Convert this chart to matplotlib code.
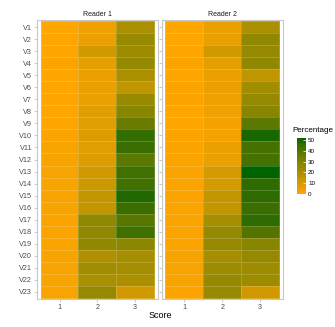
import matplotlib
matplotlib.use('Agg')
import matplotlib.pyplot as plt
from matplotlib.colors import ListedColormap, Normalize
import numpy as np

plt.rcParams['font.family'] = ['Liberation Sans', 'DejaVu Sans']

items = ['V%d' % i for i in range(1, 24)]
scores = ['1', '2', '3']
readers = ['Reader 1', 'Reader 2']

# percentage per item (rows) for score 1, 2, 3
r1_s1 = [0, 0, 0, 1, 0, 0, 0, 0, 0, 1, 2, 2, 2, 2, 2, 2, 1, 1, 1, 2, 2, 2, 2]
r1_s2 = [4, 5, 11, 6, 5, 5, 5, 7, 7, 8, 7, 8, 11, 12, 14, 14, 26, 26, 26, 19, 22, 20, 25]
r1_s3 = [20, 24, 23, 25, 20, 15, 24, 28, 35, 46, 45, 38, 44, 44, 49, 45, 39, 44, 27, 21, 21, 20, 11]
r2_s1 = [0, 0, 0, 1, 0, 1, 1, 0, 0, 1, 1, 1, 1, 1, 1, 1, 1, 1, 1, 2, 2, 2, 1]
r2_s2 = [5, 5, 11, 6, 5, 5, 4, 4, 3, 3, 5, 5, 10, 10, 14, 14, 21, 25, 25, 21, 23, 25, 24]
r2_s3 = [20, 26, 25, 26, 15, 22, 25, 28, 38, 50, 43, 43, 52, 47, 47, 45, 47, 40, 28, 25, 23, 23, 11]

data = [np.array([r1_s1, r1_s2, r1_s3]).T, np.array([r2_s1, r2_s2, r2_s3]).T]
vmin, vmax = 0, 52


# ggplot-like gradient: orange -> darkgreen interpolated in CIELAB
def srgb_to_lab(c):
    c = np.asarray(c, float)
    lin = np.where(c <= 0.04045, c / 12.92, ((c + 0.055) / 1.055) ** 2.4)
    M = np.array([[0.4124, 0.3576, 0.1805],
                  [0.2126, 0.7152, 0.0722],
                  [0.0193, 0.1192, 0.9505]])
    xyz = M @ lin / np.array([0.95047, 1.0, 1.08883])
    f = np.where(xyz > 0.008856, np.cbrt(xyz), 7.787 * xyz + 16 / 116)
    return np.array([116 * f[1] - 16, 500 * (f[0] - f[1]), 200 * (f[1] - f[2])])


def lab_to_srgb(lab):
    L, a, b = lab
    fy = (L + 16) / 116
    fx = fy + a / 500
    fz = fy - b / 200
    f = np.array([fx, fy, fz])
    xyz = np.where(f ** 3 > 0.008856, f ** 3, (f - 16 / 116) / 7.787)
    xyz = xyz * np.array([0.95047, 1.0, 1.08883])
    Minv = np.array([[3.2406, -1.5372, -0.4986],
                     [-0.9689, 1.8758, 0.0415],
                     [0.0557, -0.2040, 1.0570]])
    lin = Minv @ xyz
    lin = np.clip(lin, 0, 1)
    c = np.where(lin <= 0.0031308, 12.92 * lin, 1.055 * lin ** (1 / 2.4) - 0.055)
    return np.clip(c, 0, 1)


lo = srgb_to_lab(np.array([255, 165, 0]) / 255)
hi = srgb_to_lab(np.array([0, 100, 0]) / 255)
cols = [lab_to_srgb(lo + t * (hi - lo)) for t in np.linspace(0, 1, 256)]
cmap = ListedColormap(cols)
norm = Normalize(vmin, vmax)

fig = plt.figure(figsize=(3.35, 3.27), dpi=100)
W, H = 335, 327
panels = [(37, 157.5), (161.5, 283)]
top, bot = 20, 299

for k, (x0, x1) in enumerate(panels):
    ax = fig.add_axes([x0 / W, 1 - bot / H, (x1 - x0) / W, (bot - top) / H])
    xe = np.arange(0.5, 4.0, 1.0)
    ye = np.arange(0.5, 24.0, 1.0)
    ax.pcolormesh(xe, ye, data[k], cmap=cmap, norm=norm,
                  edgecolors=(1, 1, 1, 0.18), linewidth=0.4)
    ax.set_xlim(0.4, 3.6)
    ax.set_ylim(23.6, 0.4)
    ax.set_xticks([1, 2, 3])
    ax.set_xticklabels(scores)
    ax.set_yticks(np.arange(1, 24))
    if k == 0:
        ax.set_yticklabels(items)
    else:
        ax.set_yticklabels([])
        ax.tick_params(axis='y', length=0)
    ax.tick_params(labelsize=5.2, colors='#b3b3b3', labelcolor='#4d4d4d',
                   length=2, width=0.5, pad=1.5)
    for s in ax.spines.values():
        s.set_color('#c8c8c8')
        s.set_linewidth(0.8)
    ax.set_title(readers[k], fontsize=5, color='#1a1a1a', pad=3)

fig.text(160 / W, 1 - 316 / H, 'Score', fontsize=6.5, ha='center', va='center')

cax = fig.add_axes([297 / W, 1 - 194 / H, 9 / W, 56 / H])
cb = fig.colorbar(plt.cm.ScalarMappable(norm=norm, cmap=cmap), cax=cax,
                  ticks=[0, 10, 20, 30, 40, 50])
cb.outline.set_visible(False)
cax.tick_params(labelsize=4.5, length=2, width=0.5, color='white', pad=1.5)
cax.yaxis.set_tick_params(direction='in')
fig.text(292 / W, 1 - 130 / H, 'Percentage', fontsize=5.8, ha='left', va='center')

fig.savefig('out.png', dpi=100)
plt.close()
